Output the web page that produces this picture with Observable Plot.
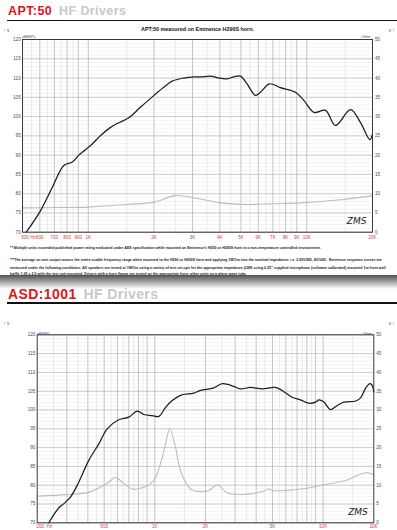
<!DOCTYPE html>
<html><head><meta charset="utf-8">
<script src="https://cdn.jsdelivr.net/npm/d3@7"></script>
<script src="https://cdn.jsdelivr.net/npm/@observablehq/plot@0.6"></script>
<style>
body{margin:0;background:#fff;width:397px;height:530px;overflow:hidden;position:relative;font-family:"Liberation Sans",Arial,sans-serif;}
.hdr{position:absolute;left:8px;font-weight:bold;letter-spacing:0.4px;white-space:nowrap;line-height:1;}
.hdr .m{color:#e3131c}.hdr .s{color:#c9c9c9;margin-left:7px}
.rule{position:absolute;left:7px;right:0;height:1.5px;background:#111}
.note{position:absolute;left:10px;font-size:3.6px;line-height:1;color:#222;white-space:nowrap;font-weight:bold}
.shadow{position:absolute;left:0;right:0;top:275px;height:14px;background:linear-gradient(rgba(70,70,70,0.95),rgba(255,255,255,1))}
#c1,#c2{position:absolute;left:0}
#c1{top:25px}#c2{top:318px}
</style></head><body>
<div class="hdr" style="top:4.7px;font-size:12.5px"><span class="m">APT:50</span><span class="s">HF Drivers</span></div>
<div class="rule" style="top:19.5px"></div>
<div id="c1"></div>
<div class="note" style="top:247.4px">** Multiple units exceeded published power rating evaluated under AES specification while mounted on Eminence's H290 or H290S horn in a non-temperature controlled environment.</div>
<div class="note" style="top:258.9px">***The average on axis output across the entire usable frequency range when mounted to the H290 or H290S horn and applying 1W/1m into the nominal impedance, i.e. 2.83V/8Ω, 4V/16Ω.&nbsp; Eminence response curves are</div>
<div class="note" style="top:266.5px">measured under the following conditions: All speakers are tested at 1W/1m using a variety of test set-ups for the appropriate impedance (LMS using 0.25" supplied microphone (software calibrated) mounted 1m from wall</div>
<div class="note" style="top:273px">baffle 1.25 x 2.5 with the test unit mounted. Drivers with a horn flange are tested on the appropriate horn; other units on a plane wave tube.</div>
<div class="shadow"></div>
<div class="hdr" style="top:286.5px;font-size:14px"><span class="m">ASD:1001</span><span class="s">HF Drivers</span></div>
<div class="rule" style="top:302px"></div>
<div id="c2"></div>
<script>
// ---------- APT:50 data ----------
const aptFreq = [520, 605, 684, 773, 845, 905, 971, 1043, 1139, 1264, 1357, 1533, 1732, 2000, 2216, 2420, 2738, 3045, 3265, 3627, 3960, 4324, 4634, 4970, 5330, 5825, 6140, 6750, 7580, 8880, 9700, 10780, 12190, 13540, 15860, 17600, 19450, 20000];
const aptSpl  = [70, 75.6, 81.6, 87.3, 88.2, 90, 91.4, 92.9, 95.1, 97.2, 98.2, 99.7, 102.4, 105.5, 107.6, 109.2, 110, 110.3, 110.3, 110.5, 110, 109.8, 110.3, 110.5, 108.5, 105.5, 106.3, 108.5, 107.5, 106.3, 104.2, 101.1, 101.6, 97.7, 101.8, 98.5, 94, 95.5];
const aptImpFreq = [500, 700, 1000, 1500, 2000, 2507, 3265, 4030, 5510, 6830, 9370, 14280, 20000];
const aptImp     = [6.3, 6.4, 6.5, 7.2, 7.8, 9.5, 8.6, 7.6, 7.2, 7.4, 7.6, 8.4, 9.5];
const aptTickFreq  = [500, 600, 700, 800, 900, 1000, 2000, 3000, 4000, 5000, 6000, 7000, 8000, 9000, 10000, 20000];
const aptTickLabel = ["500", "600", "700", "800", "900", "1K", "2K", "3K", "4K", "5K", "6K", "7K", "8K", "9K", "10K", "20K"];

// ---------- ASD:1001 data ----------
const asdFreq = [234, 269, 288, 315, 353, 405, 465, 521, 610, 700, 786, 860, 964, 1056, 1158, 1269, 1420, 1704, 1868, 2240, 2520, 2940, 3225, 3700, 4340, 5200, 5700, 6540, 7320, 8220, 9020, 9440, 10100, 11080, 12140, 13300, 15600, 16740, 17920, 18980, 19600, 20000];
const asdSpl  = [70, 74, 75.1, 76.8, 80.8, 86.6, 91, 95, 97.4, 98.1, 99.7, 98.8, 98.5, 98.3, 100.7, 102.5, 103.9, 104.5, 105.2, 105.9, 107, 106.3, 105.6, 106, 105.6, 106, 105.2, 103.4, 102.7, 101.8, 102.1, 102.7, 102.1, 100.1, 101.2, 102.1, 102.4, 103.3, 105.9, 107, 106.5, 104.8];
const asdImpFreq = [200, 301, 405, 476, 532, 584, 640, 734, 841, 986, 1080, 1158, 1226, 1327, 1420, 1628, 1868, 2090, 2360, 2700, 3700, 4540, 4760, 5000, 6120, 8800, 10100, 13900, 16740, 18300, 20000];
const asdImp     = [7.1, 7.5, 8.1, 9.5, 10.8, 12.1, 10.8, 9, 9.3, 11.3, 15.7, 21, 25, 20.1, 13.9, 9, 8.3, 8.6, 10.1, 7.9, 7.7, 8.6, 9.0, 8.6, 8.6, 9.5, 10.1, 11.4, 13, 13.3, 12.8];
const asdTickFreq  = [200, 500, 1000, 2000, 5000, 10000, 20000];
const asdTickLabel = ["200", "500", "1K", "2K", "5K", "10K", "20K"];

const splTicks = [70, 75, 80, 85, 90, 95, 100, 105, 110, 115, 120];
const chartTitle = "APT:50 measured on Eminence H290S horn.";

function gridFreqs(lo, hi) {
  const major = [], minor = [];
  for (let d = 100; d <= 10000; d *= 10) {
    for (let k = 1; k <= 9; k++) {
      const f = d * k, m = d * (k + 0.5);
      if (f > lo && f < hi) major.push(f);
      if (m > lo && m < hi && k < 9) minor.push(m);
    }
  }
  return {major, minor};
}

function chart(o) {
  const spl = o.freq.map((f, i) => ({f, v: o.spl[i]}));
  const imp = o.impFreq.map((f, i) => ({f, v: o.imp[i]}));
  const g = gridFreqs(o.domain[0], o.domain[1]);
  const labColor = "#3e4a78", xColor = "#c8473f";
  const marks = [
    Plot.ruleY(d3.range(70, 121, 1), {stroke: "#ebebeb", strokeWidth: 0.6}),
    Plot.ruleX(g.minor, {stroke: "#e3e3e3", strokeWidth: 0.7}),
    Plot.ruleY(splTicks, {stroke: "#c2c2c2", strokeWidth: 0.8}),
    Plot.ruleX(g.major, {stroke: "#b8b8b8", strokeWidth: 0.8}),
    Plot.line(imp, {x: "f", y: d => 70 + d.v, stroke: "#bdbdbd", strokeWidth: 1.1, curve: "catmull-rom"}),
    Plot.line(spl, {x: "f", y: "v", stroke: "#1e1e1e", strokeWidth: 1.25, curve: "catmull-rom"}),
    Plot.frame({stroke: "#3a3a3a", strokeWidth: 1}),
    Plot.axisY(splTicks, {anchor: "left", tickSize: 0, tickPadding: 1.8, fontSize: 4.6, color: labColor}),
    Plot.axisY(splTicks, {anchor: "right", tickSize: 0, tickPadding: 2.5, fontSize: 4.6, color: labColor, tickFormat: d => d - 70}),
    Plot.text(o.tickFreq.slice(1), {x: d => d, text: (d, i) => o.tickLabel[i + 1], frameAnchor: "bottom", dy: o.xdy, fontSize: 4.6, fill: xColor}),
    Plot.text([o.tickFreq[0]], {x: d => d, text: d => o.tickLabel[0] + o.hz, frameAnchor: "bottom", textAnchor: "start", dx: o.hzdx, dy: o.xdy, fontSize: 4.6, fill: xColor}),
    Plot.text(["dBSPL"], {text: d => d, frameAnchor: "top-left", textAnchor: "start", dy: o.unitdy, fontSize: 4.3, fill: labColor}),
    Plot.text(["Ohm"], {text: d => d, frameAnchor: "top-right", textAnchor: "end", dx: -2, dy: o.unitdy, fontSize: 4.3, fill: labColor}),
    Plot.text(["ZMS"], {text: d => d, frameAnchor: "bottom-right", textAnchor: "end", dx: -6, dy: -8, fontSize: 9, fontStyle: "italic", fontFamily: "DejaVu Sans", fill: "#222"})
  ];
  if (o.title) marks.push(Plot.text([o.title], {text: d => d, frameAnchor: "top", dy: -12, fontSize: 5.4, fontWeight: "bold", fill: "#111"}));
  return Plot.plot({
    width: 397, height: o.height,
    marginTop: o.mt, marginBottom: o.mb, marginLeft: o.ml, marginRight: o.mr,
    x: {type: "log", domain: o.domain, axis: null},
    y: {domain: [70, 120], axis: null},
    style: {background: "transparent", fontFamily: "Liberation Sans, Arial, sans-serif", overflow: "visible"},
    marks
  });
}

document.getElementById("c1").appendChild(chart({
  freq: aptFreq, spl: aptSpl, impFreq: aptImpFreq, imp: aptImp,
  tickFreq: aptTickFreq, tickLabel: aptTickLabel, hz: " Hz", hzdx: -1.3,
  domain: [500, 20000], height: 220, mt: 14, mb: 13.3, ml: 22, mr: 25,
  xdy: 6.3, unitdy: -4.5, title: chartTitle
}));
document.getElementById("c2").appendChild(chart({
  freq: asdFreq, spl: asdSpl, impFreq: asdImpFreq, imp: asdImp,
  tickFreq: asdTickFreq, tickLabel: asdTickLabel, hz: "\u00a0\u00a0Hz", hzdx: -0.8,
  domain: [200, 20000], height: 212, mt: 16.3, mb: 7.7, ml: 36.7, mr: 23.7,
  xdy: 5.6, unitdy: -3.3, title: null
}));
</script>
</body></html>
